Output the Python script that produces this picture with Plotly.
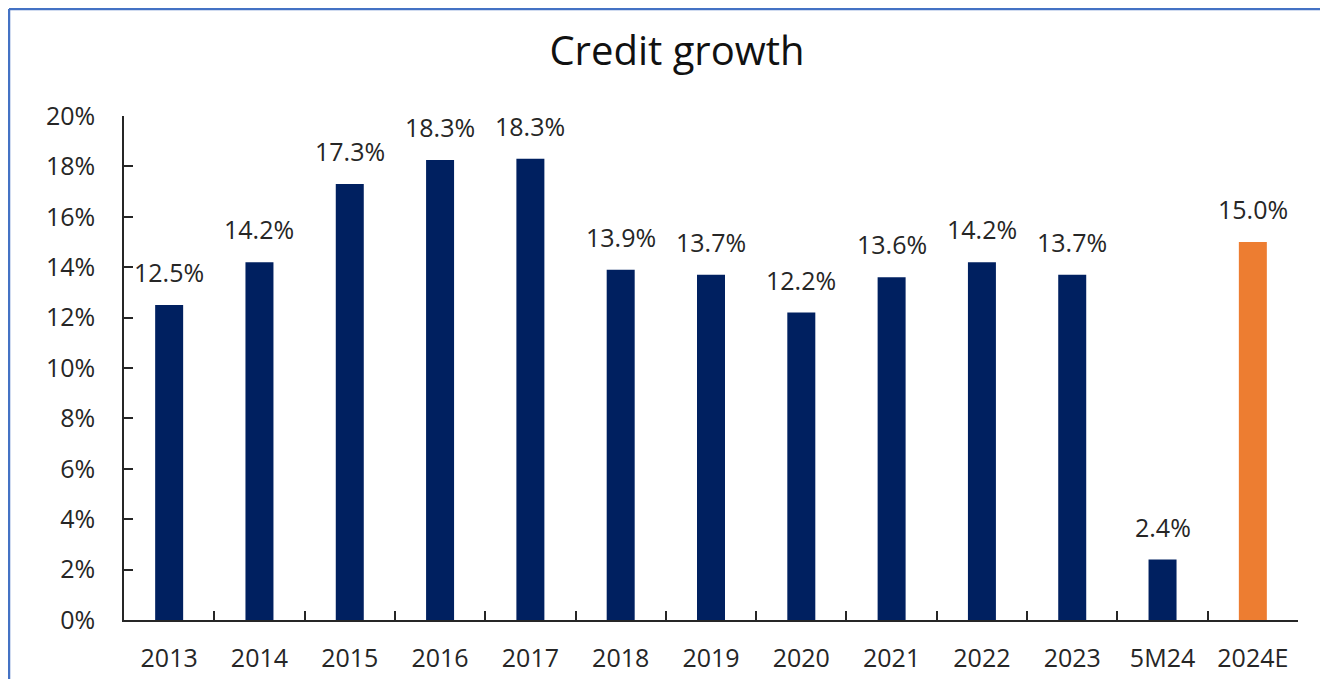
import plotly.graph_objects as go

categories = ["2013", "2014", "2015", "2016", "2017", "2018", "2019", "2020",
              "2021", "2022", "2023", "5M24", "2024E"]
growth = [12.5, 14.2, 17.3, 18.25, 18.3, 13.9, 13.7, 12.2, 13.6, 14.2, 13.7, 2.4, 15.0]
labels = ["12.5%", "14.2%", "17.3%", "18.3%", "18.3%", "13.9%", "13.7%", "12.2%",
          "13.6%", "14.2%", "13.7%", "2.4%", "15.0%"]
y_ticks = [0, 2, 4, 6, 8, 10, 12, 14, 16, 18, 20]

NAVY = "#002060"
ORANGE = "#ED7D31"
colors = [NAVY] * (len(categories) - 1) + [ORANGE]

# page body has an 8px margin, so the figure starts at (8, 8)
W, H = 1320, 671
ML, MR, MT, MB = 116, 30, 108, 59
FONT = "Open Sans"
TXT = "#262626"
FS = 25

fig = go.Figure()
fig.add_trace(go.Bar(
    x=categories, y=growth,
    marker=dict(color=colors, line=dict(width=0)),
    hoverinfo="x+y",
))

for i, (v, t) in enumerate(zip(growth, labels)):
    fig.add_annotation(x=i, y=v, text=t, showarrow=False, yanchor="bottom",
                       yshift=14, font=dict(family=FONT, size=FS, color=TXT))

pw = W - ML - MR
ph = H - MT - MB
bx = (1 - ML) / pw
by = 1 + (MT - 1) / ph
border = dict(color="#4472C4", width=2.5)
fig.add_shape(type="line", xref="paper", yref="paper", x0=bx, x1=(W - ML + 5) / pw,
              y0=by, y1=by, line=border)
fig.add_shape(type="line", xref="paper", yref="paper", x0=bx, x1=bx,
              y0=by, y1=-(MB + 5) / ph, line=border)

fig.update_layout(
    width=W, height=H,
    margin=dict(l=ML, r=MR, t=MT, b=MB, autoexpand=False),
    paper_bgcolor="white", plot_bgcolor="white",
    bargap=0.69,
    showlegend=False,
    title=dict(text="Credit growth", x=(677 - 8) / W, xanchor="center", xref="container",
               y=1 - 43 / H, yanchor="middle",
               font=dict(family=FONT, size=40, color="#111111")),
    font=dict(family=FONT, size=FS, color=TXT),
)
fig.update_xaxes(
    type="category", showline=True, linecolor="#262626", linewidth=1.5,
    ticks="inside", tickson="boundaries", ticklen=9, tickcolor="#262626", tickwidth=1.5,
    showgrid=False, ticklabelstandoff=15, tickangle=0, automargin=False,
    tickfont=dict(family=FONT, size=FS, color=TXT),
)
fig.update_yaxes(
    range=[0, 20], tickvals=y_ticks, ticktext=[f"{v}%" for v in y_ticks],
    showline=True, linecolor="#262626", linewidth=1.5,
    ticks="inside", ticklen=9, tickcolor="#262626", tickwidth=1.5,
    showgrid=False, zeroline=False, ticklabelstandoff=22, automargin=False,
    tickfont=dict(family=FONT, size=FS, color=TXT),
)

fig.write_html("out.html")
